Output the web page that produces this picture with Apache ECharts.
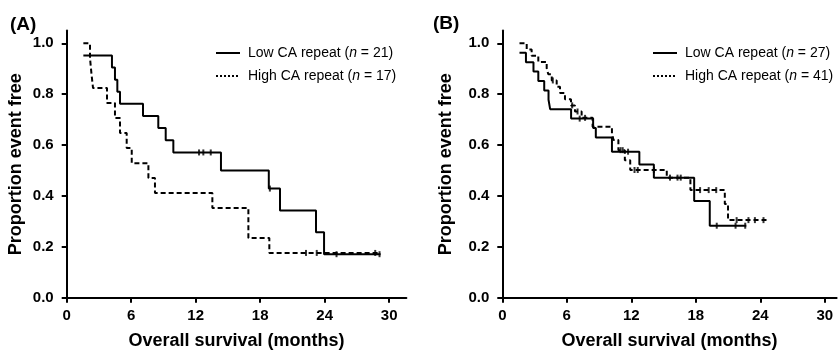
<!DOCTYPE html>
<html>
<head>
<meta charset="utf-8">
<script src="https://cdn.jsdelivr.net/npm/echarts@6/dist/echarts.min.js"></script>
<style>
  html, body { margin: 0; padding: 0; background: #fff; }
  #chart { width: 838px; height: 350px; }
</style>
</head>
<body>
<div id="chart"></div>
<script>
const FONT = 'Liberation Sans, Arial, sans-serif'

// months at which each step starts, and survival after the step
const lowA_t = [1.55, 4.21, 4.49, 4.71, 4.96, 7.1, 8.52, 9.21, 9.92, 14.35, 18.8, 19.84, 23.19, 23.94, 29.2]
const lowA_s = [0.952, 0.905, 0.857, 0.81, 0.762, 0.714, 0.667, 0.619, 0.571, 0.5, 0.429, 0.343, 0.257, 0.171, 0.171]
const lowA_cens = [12.31, 12.71, 13.4, 18.9, 25.1, 29.1]

const highA_t = [1.55, 2.17, 2.3, 2.45, 3.75, 4.49, 4.96, 5.58, 6.05, 7.6, 8.21, 13.55, 16.9, 18.85, 29.2]
const highA_s = [1.0, 0.941, 0.882, 0.824, 0.765, 0.706, 0.647, 0.588, 0.529, 0.471, 0.412, 0.353, 0.235, 0.176, 0.176]
const highA_cens = [22.26, 23.26, 28.7]

const lowB_t = [1.6, 2.2, 2.9, 3.35, 3.9, 4.3, 4.45, 6.4, 8.45, 8.7, 10.2, 12.75, 14.1, 17.85, 19.3, 22.7]
const lowB_s = [0.963, 0.926, 0.889, 0.852, 0.815, 0.778, 0.741, 0.704, 0.667, 0.63, 0.574, 0.524, 0.472, 0.38, 0.283, 0.283]
const lowB_cens = [7.2, 11.7, 19.95, 21.7, 22.6]

const highB_t = [1.6, 2.27, 2.73, 3.35, 4.13, 4.28, 4.6, 5.06, 5.37, 5.83, 6.39, 6.76, 7.38, 8.4, 10.2, 10.35, 10.8, 11.4, 11.9, 15.3, 17.5, 20.7, 21.0, 24.6]
const highB_s = [1.0, 0.976, 0.951, 0.927, 0.902, 0.878, 0.854, 0.829, 0.805, 0.78, 0.756, 0.732, 0.707, 0.672, 0.645, 0.62, 0.58, 0.54, 0.502, 0.472, 0.423, 0.368, 0.305, 0.305]
const highB_cens = [4.7, 6.5, 7.0, 7.7, 11.0, 11.2, 12.3, 12.6, 14.1, 15.6, 16.3, 16.6, 18.4, 19.2, 19.9, 21.8, 22.9, 23.5, 24.3]

const xTicks = [0, 6, 12, 18, 24, 30]
const yTicks = [0, 0.2, 0.4, 0.6, 0.8, 1.0]

const namesA = ['Low CA repeat (n = 21)', 'High CA repeat (n = 17)']
const namesB = ['Low CA repeat (n = 27)', 'High CA repeat (n = 41)']

function pairs(ts, ss) {
  return ts.map((t, i) => [t, ss[i]])
}

// survival level of a curve at time t (used to sit the censor marks on the line)
function survAt(ts, ss, t) {
  let v = ss[0]
  for (let i = 0; i < ts.length; i++) {
    if (ts[i] <= t) v = ss[i]
  }
  return v
}

function censorPts(cens, ts, ss) {
  return cens.map(t => [t, survAt(ts, ss, t)])
}

const myChart = echarts.init(document.getElementById('chart'))

function xAxisFor(gridIndex, max) {
  return {
    gridIndex: gridIndex,
    type: 'value',
    min: 0,
    max: max,
    name: 'Overall survival (months)',
    nameLocation: 'middle',
    nameGap: 34,
    nameTextStyle: { fontFamily: FONT, fontSize: 18, fontWeight: 'bold', color: '#000' },
    splitLine: { show: false },
    axisLine: { lineStyle: { color: '#000', width: 2 } },
    axisTick: { customValues: xTicks, length: 5, lineStyle: { color: '#000', width: 2 } },
    axisLabel: {
      customValues: xTicks,
      margin: 11,
      fontFamily: FONT, fontSize: 15, fontWeight: 'bold', color: '#000'
    }
  }
}

function yAxisFor(gridIndex, gap) {
  return {
    gridIndex: gridIndex,
    type: 'value',
    min: 0,
    max: 1.05,
    name: 'Proportion event free',
    nameLocation: 'middle',
    nameGap: gap,
    nameTextStyle: { fontFamily: FONT, fontSize: 18, fontWeight: 'bold', color: '#000' },
    splitLine: { show: false },
    axisLine: { lineStyle: { color: '#000', width: 2 } },
    axisTick: { customValues: yTicks, length: 5, lineStyle: { color: '#000', width: 2 } },
    axisLabel: {
      customValues: yTicks,
      margin: 13,
      formatter: v => v.toFixed(1),
      fontFamily: FONT, fontSize: 15, fontWeight: 'bold', color: '#000'
    }
  }
}

function curve(name, idx, ts, ss, dashed) {
  return {
    name: name,
    type: 'line',
    xAxisIndex: idx,
    yAxisIndex: idx,
    step: 'end',
    symbol: 'none',
    silent: true,
    lineStyle: { color: '#000', width: 2, type: dashed ? [5, 3] : 'solid' },
    itemStyle: { color: '#000' },
    data: pairs(ts, ss)
  }
}

function marks(idx, pts) {
  return {
    type: 'scatter',
    xAxisIndex: idx,
    yAxisIndex: idx,
    symbol: 'rect',
    symbolSize: [2, 6],
    silent: true,
    itemStyle: { color: '#000' },
    data: pts,
    z: 3
  }
}

// legend: plain line icon, hide the default circle marker
const hiddenMarker = { color: 'rgba(0,0,0,0)', borderColor: 'rgba(0,0,0,0)', borderWidth: 0 }

function legendFor(left, names) {
  return {
    left: left,
    top: 46,
    padding: 0,
    orient: 'vertical',
    itemWidth: 24,
    itemHeight: 14,
    itemGap: 9,
    selectedMode: false,
    data: [
      { name: names[0], itemStyle: hiddenMarker, lineStyle: { color: '#000', type: 'solid', width: 2 } },
      { name: names[1], itemStyle: hiddenMarker, lineStyle: { color: '#000', type: 'dotted', width: 2 } }
    ],
    formatter: n => n.replace('(n =', '({i|n} ='),
    textStyle: {
      fontFamily: FONT, fontSize: 14, color: '#000', padding: [0, 0, 0, 3],
      rich: { i: { fontFamily: FONT, fontSize: 14, fontStyle: 'italic', color: '#000' } }
    }
  }
}

const option = {
  animation: false,
  backgroundColor: '#fff',
  title: [
    { text: '(A)', left: 10, top: 15, padding: 0, textStyle: { fontFamily: FONT, fontSize: 19, fontWeight: 'bold', color: '#000' } },
    { text: '(B)', left: 433, top: 14, padding: 0, textStyle: { fontFamily: FONT, fontSize: 19, fontWeight: 'bold', color: '#000' } }
  ],
  legend: [legendFor(215, namesA), legendFor(652, namesB)],
  grid: [
    { left: 66.7, width: 339.7, top: 30.6, height: 267.1, outerBoundsMode: 'none' },
    { left: 502.3, width: 334.3, top: 30.6, height: 267.1, outerBoundsMode: 'none' }
  ],
  xAxis: [xAxisFor(0, 31.6), xAxisFor(1, 31.1)],
  yAxis: [yAxisFor(0, 42), yAxisFor(1, 47)],
  series: [
    curve(namesA[0], 0, lowA_t, lowA_s, false),
    curve(namesA[1], 0, highA_t, highA_s, true),
    marks(0, censorPts(lowA_cens, lowA_t, lowA_s)),
    marks(0, censorPts(highA_cens, highA_t, highA_s)),
    curve(namesB[0], 1, lowB_t, lowB_s, false),
    curve(namesB[1], 1, highB_t, highB_s, true),
    marks(1, censorPts(lowB_cens, lowB_t, lowB_s)),
    marks(1, censorPts(highB_cens, highB_t, highB_s))
  ]
}

myChart.setOption(option)
</script>
</body>
</html>
